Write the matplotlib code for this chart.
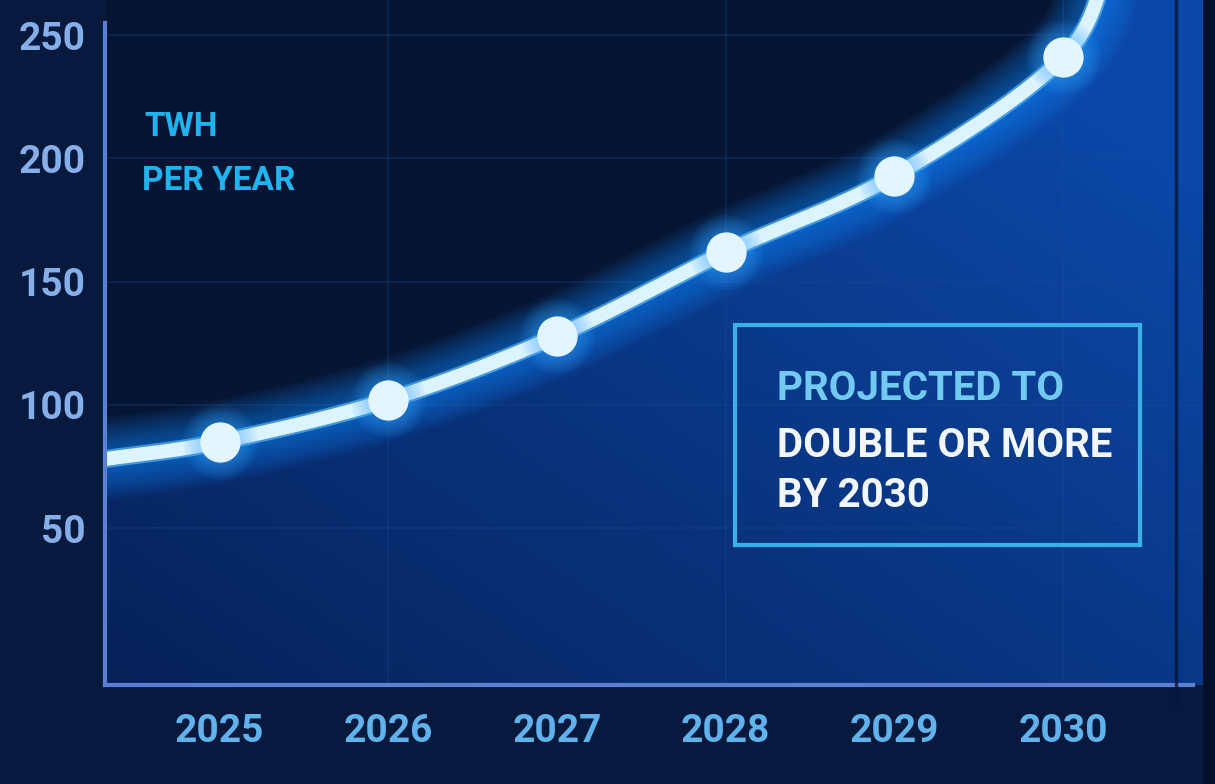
import numpy as np
import matplotlib.pyplot as plt
from matplotlib.patches import Polygon, Rectangle
from matplotlib.colors import to_rgb

# data
years = [2025, 2026, 2027, 2028, 2029, 2030]
twh = [85, 102, 128, 162, 193, 241]
start_twh = 78      # value where the line meets the left axis
end_twh = 285       # line keeps rising past the top edge
yticks = [50, 100, 150, 200, 250]
ylabel_lines = ["TWH", "PER YEAR"]
note_lines = ["PROJECTED TO", "DOUBLE OR MORE", "BY 2030"]

plt.rcParams['font.family'] = ['Roboto', 'DejaVu Sans']

x_left, x_right = 2024.32, 2030.9
y_bottom, y_top = -13.6, 264.2


def smooth(xs, ys, n=50):
    # catmull-rom through the points, just for a soft curve
    xs = np.asarray(xs, float)
    ys = np.asarray(ys, float)
    px = np.r_[2 * xs[0] - xs[1], xs, 2 * xs[-1] - xs[-2]]
    py = np.r_[2 * ys[0] - ys[1], ys, 2 * ys[-1] - ys[-2]]
    t = np.linspace(0, 1, n, endpoint=False)
    ox, oy = [], []
    for i in range(1, len(px) - 2):
        for arr, out in ((px, ox), (py, oy)):
            p0, p1, p2, p3 = arr[i - 1:i + 3]
            out.append(0.5 * (2 * p1 + (-p0 + p2) * t + (2 * p0 - 5 * p1 + 4 * p2 - p3) * t ** 2
                              + (-p0 + 3 * p1 - 3 * p2 + p3) * t ** 3))
    return np.concatenate(ox + [[xs[-1]]]), np.concatenate(oy + [[ys[-1]]])


cx, cy = smooth([x_left] + years + [2030.3], [start_twh] + twh + [end_twh])

fig = plt.figure(figsize=(12.15, 7.84), dpi=100, facecolor='#071a3d')
ax = fig.add_axes([0.0864, 0.1263, 1 - 0.0864, 1 - 0.1263])
ax.set_facecolor('#061533')
ax.set_xlim(x_left, x_right)
ax.set_ylim(y_bottom, y_top)

# gradient under the curve
gx = np.linspace(0, 1, 300)
gy = np.linspace(0, 1, 200)
GX, GY = np.meshgrid(gx, gy)
tt = np.clip(0.1 + 0.55 * GX + 0.5 * GY, 0, 1)[..., None]
dark = np.array(to_rgb('#071d50'))
bright = np.array(to_rgb('#0b47a6'))
img = dark * (1 - tt) + bright * tt
im = ax.imshow(img, extent=[x_left, x_right, y_bottom, y_top], origin='lower',
               aspect='auto', zorder=1)
poly_pts = np.column_stack([np.r_[cx, x_right, x_right, x_left],
                            np.r_[cy, y_top, y_bottom, y_bottom]])
poly = Polygon(poly_pts, closed=True, facecolor='none', edgecolor='none',
               transform=ax.transData)
ax.add_patch(poly)
im.set_clip_path(poly)

# faint grid
for v in yticks:
    ax.axhline(v, color='#1d4f96', lw=1.1, alpha=0.3, zorder=2)
for yr in years[1::2]:
    ax.axvline(yr, color='#1d4f96', lw=1.1, alpha=0.3, zorder=2)

# glowing line
for lw in np.linspace(60, 13, 14):
    ax.plot(cx, cy, color='#1a8cff', lw=lw, alpha=0.05, solid_capstyle='round', zorder=3)
ax.plot(cx, cy, color='#6cc4ff', lw=13, alpha=0.6, solid_capstyle='round', zorder=3)
ax.plot(cx, cy, color='#dcf4ff', lw=10, solid_capstyle='round', zorder=4)
for ms in np.linspace(54, 32, 6):
    ax.plot(years, twh, 'o', ms=ms, color='#3aa6ff', alpha=0.08, mec='none', zorder=4)
ax.plot(years, twh, 'o', ms=29, color='#e3f6ff', mec='none', zorder=5)

# spines and ticks
for s in ['top', 'right']:
    ax.spines[s].set_visible(False)
for s in ['left', 'bottom']:
    ax.spines[s].set_color('#5b7fd2')
    ax.spines[s].set_linewidth(3)
    ax.spines[s].set_zorder(6)
ax.spines['left'].set_bounds(y_bottom, 255)
ax.spines['bottom'].set_bounds(x_left, 2030.77)

ax.set_yticks(yticks)
ax.set_yticklabels([str(v) for v in yticks], fontsize=28, fontweight='bold', color='#86aee8')
ax.set_xticks(years)
ax.set_xticklabels([str(v) for v in years], fontsize=28, fontweight='bold', color='#5fb2ec')
ax.tick_params(axis='y', length=0, pad=14)
ax.tick_params(axis='x', length=0, pad=20)

# unit label
ax.text(0.119, 0.826, ylabel_lines[0], transform=fig.transFigure, fontsize=24,
        fontweight='bold', color='#1fb4f0', zorder=7)
ax.text(0.117, 0.758, ylabel_lines[1], transform=fig.transFigure, fontsize=24,
        fontweight='bold', color='#1fb4f0', zorder=7)

# note box
box = Rectangle((0.605, 0.305), 0.333, 0.281, transform=fig.transFigure,
                fill=False, edgecolor='#38b0e8', lw=3, zorder=7)
fig.add_artist(box)
note_colors = ['#72caf2', '#f2f7ff', '#f2f7ff']
note_y = [0.49, 0.417, 0.353]
for txt, c, y in zip(note_lines, note_colors, note_y):
    fig.text(0.6395, y, txt, fontsize=29, fontweight='bold', color=c, va='baseline', zorder=8)

# monitor edge on the right
fig.add_artist(plt.Line2D([0.968, 0.968], [0.1, 1.0], transform=fig.transFigure,
                          color='#06173d', lw=2.5, alpha=0.8))
fig.add_artist(Rectangle((0.99, 0), 0.01, 1, transform=fig.transFigure,
                         facecolor='#04102a', edgecolor='none'))

fig.savefig('out.png', dpi=100, facecolor=fig.get_facecolor())
